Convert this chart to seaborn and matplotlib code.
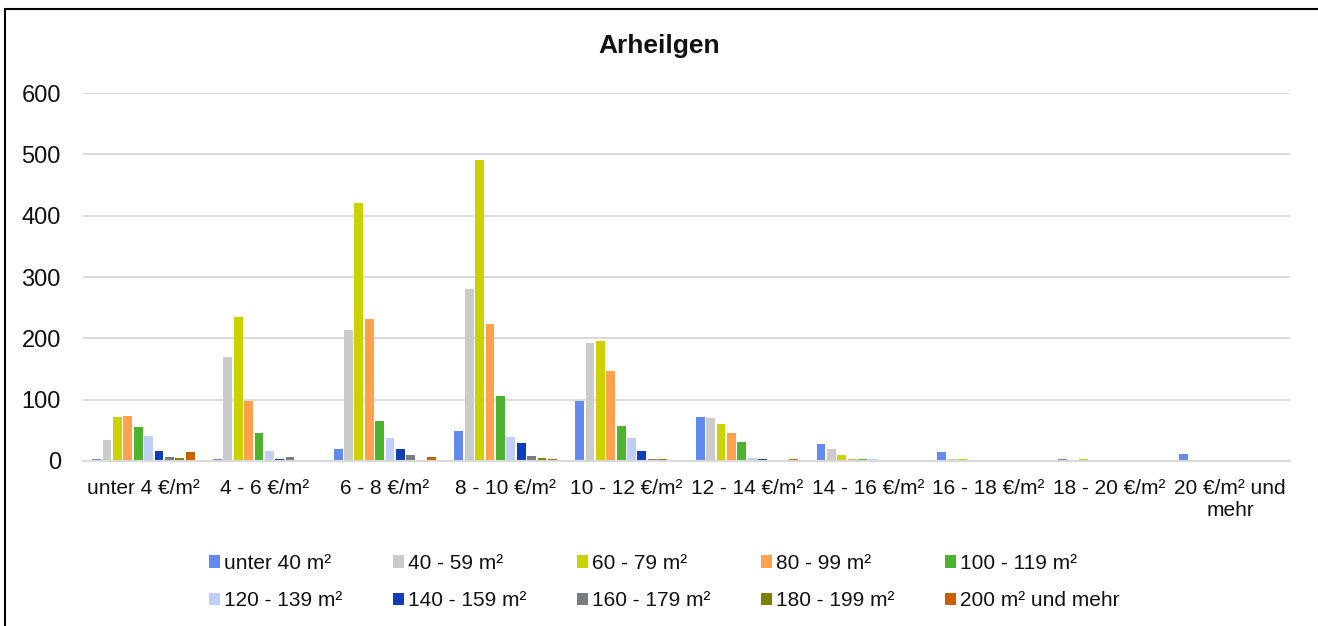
import seaborn as sns
import matplotlib.pyplot as plt
import pandas as pd
from matplotlib.lines import Line2D

# price categories (x axis)
price_classes = ["unter 4 €/m²", "4 - 6 €/m²", "6 - 8 €/m²", "8 - 10 €/m²",
                 "10 - 12 €/m²", "12 - 14 €/m²", "14 - 16 €/m²", "16 - 18 €/m²",
                 "18 - 20 €/m²", "20 €/m² und\nmehr"]

# flat size classes (hue)
size_classes = ["unter 40 m²", "40 - 59 m²", "60 - 79 m²", "80 - 99 m²",
                "100 - 119 m²", "120 - 139 m²", "140 - 159 m²", "160 - 179 m²",
                "180 - 199 m²", "200 m² und mehr"]

unter_40 = [3, 3, 20, 49, 97, 71, 28, 14, 3, 11]
m40_59 = [34, 169, 214, 280, 193, 70, 20, 4, 0, 0]
m60_79 = [72, 234, 420, 491, 195, 61, 10, 3, 3, 0]
m80_99 = [74, 97, 231, 224, 146, 46, 4, 0, 0, 0]
m100_119 = [55, 45, 65, 106, 57, 31, 3, 0, 0, 0]
m120_139 = [41, 16, 37, 39, 37, 5, 3, 0, 0, 0]
m140_159 = [17, 3, 20, 29, 16, 3, 0, 0, 0, 0]
m160_179 = [7, 6, 10, 8, 3, 0, 0, 0, 0, 0]
m180_199 = [5, 0, 2, 5, 3, 0, 0, 0, 0, 0]
m200_plus = [14, 0, 7, 3, 0, 3, 0, 0, 0, 0]

series = [unter_40, m40_59, m60_79, m80_99, m100_119,
          m120_139, m140_159, m160_179, m180_199, m200_plus]

colors = ["#638AEF", "#CACCCC", "#CCD200", "#FFA14D", "#4DB22E",
          "#C0CFF7", "#0F3DB8", "#777C7E", "#7F7F00", "#CC5F00"]

rows = []
for size, vals in zip(size_classes, series):
    for price, v in zip(price_classes, vals):
        rows.append({"Preis": price, "Größe": size, "Anzahl": v})
df = pd.DataFrame(rows)

sns.set_theme(style="white")
plt.rcParams['font.family'] = ['Liberation Sans', 'DejaVu Sans']

fig = plt.figure(figsize=(13.18, 6.26), dpi=100)
ax = fig.add_axes([0.063, 0.2636, 0.916, 0.5878])

sns.barplot(data=df, x="Preis", y="Anzahl", hue="Größe",
            order=price_classes, hue_order=size_classes,
            palette=colors, saturation=1, width=0.86, gap=0.15,
            linewidth=0, ax=ax)

ax.set_ylim(0, 600)
ax.set_yticks(range(0, 601, 100))
ax.set_xlim(-0.5, len(price_classes) - 0.5)
ax.yaxis.grid(True, color="#D9D9D9", linewidth=1.4)
ax.set_axisbelow(True)
for side in ["left", "right", "top"]:
    ax.spines[side].set_visible(False)
ax.spines["bottom"].set_color("#D9D9D9")
ax.spines["bottom"].set_linewidth(1.5)
ax.set_xlabel("")
ax.set_ylabel("")
ax.tick_params(axis="y", length=0, pad=16, labelsize=17, labelcolor="#111111")
ax.tick_params(axis="x", length=0, pad=13, labelsize=15, labelcolor="#111111")

fig.text(0.5, 0.927, "Arheilgen", ha="center", va="center",
         fontsize=19, fontweight="bold", color="#111111")

# legend filled row by row (2 rows x 5 columns)
handles, labels = ax.get_legend_handles_labels()
order = [0, 5, 1, 6, 2, 7, 3, 8, 4, 9]
ax.get_legend().remove()
fig.legend([handles[i] for i in order], [labels[i] for i in order],
           loc="center", bbox_to_anchor=(0.504, 0.070), ncol=5, frameon=False,
           fontsize=15, handlelength=0.55, handleheight=0.55,
           handletextpad=0.2, columnspacing=2.4, labelspacing=0.89,
           labelcolor="#111111")

# frame lines (left and top)
fig.add_artist(Line2D([0.0038, 0.0038], [0, 0.985], transform=fig.transFigure,
                      color="black", linewidth=1.5))
fig.add_artist(Line2D([0.0038, 1], [0.985, 0.985], transform=fig.transFigure,
                      color="black", linewidth=1.5))

fig.savefig("out.png", dpi=100)
